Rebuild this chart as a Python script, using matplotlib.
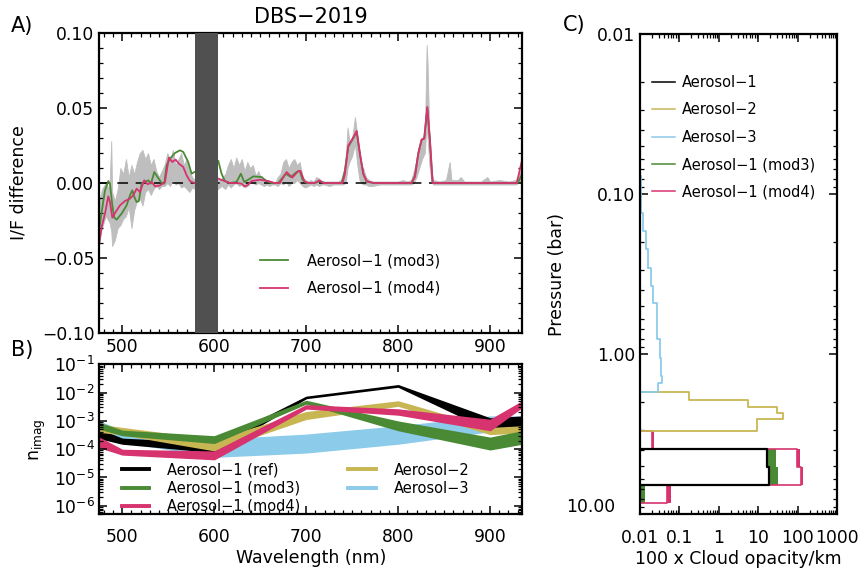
import numpy as np
import matplotlib.pyplot as plt
from matplotlib.lines import Line2D
from matplotlib.ticker import MultipleLocator, FuncFormatter, LogLocator, FixedLocator, NullFormatter

plt.rcParams['font.family'] = ['DejaVu Sans']

# --- Panel A: I/F difference -------------------------------------------------
gray_wl = [475, 478, 482, 486, 488, 489, 492, 495, 498, 501, 504, 507, 510, 513, 516, 519, 522, 525,
           528, 531, 534, 537, 540, 543, 546, 549, 552, 555, 558, 561, 564, 567, 570, 573, 576, 579,
           604, 608, 612, 615, 618, 621, 624, 627, 630, 633, 636,
           639, 642, 645, 648, 651, 654, 657, 660, 663, 666, 669, 672,
           675, 678, 681, 684, 687, 690, 693, 696, 699, 702, 705, 708,
           711, 714, 717, 720, 725, 730, 735, 740,
           743, 745, 747, 750, 753, 756, 758, 760, 762, 765, 768,
           772, 780, 790, 800, 805, 810, 814, 817, 820, 823, 826, 829, 831, 832, 834, 836, 838, 845,
           852, 856, 858, 865, 868, 872, 880, 890, 897, 900, 910, 920, 928, 935]
gray_hi = [-0.012, -0.004, 0.000, -0.004, 0.028, -0.006, -0.012, -0.004, 0.010, 0.006, 0.016, 0.004,
           0.012, 0.006, 0.014, 0.020, 0.022, 0.016, 0.020, 0.012, 0.016, 0.008, 0.004, 0.008, 0.012,
           0.020, 0.015, 0.022, 0.012, 0.016, 0.020, 0.012, 0.016, 0.008, 0.004, 0.002,
           0.002, 0.003, 0.006, 0.012, 0.016, 0.010, 0.017, 0.012, 0.016, 0.008, 0.014,
           0.010, 0.012, 0.005, 0.008, 0.003, 0.002, 0.002, 0.001, 0.000, 0.000, 0.004, 0.006,
           0.014, 0.016, 0.010, 0.014, 0.016, 0.012, 0.014, 0.004, 0.002, 0.001, 0.002, 0.001,
           0.004, 0.003, 0.001, 0.001, 0.001, 0.001, 0.001, 0.003,
           0.018, 0.037, 0.028, 0.030, 0.044, 0.030, 0.018, 0.012, 0.010, 0.004, 0.002,
           0.001, 0.001, 0.001, 0.001, 0.002, 0.001, 0.002, 0.008, 0.016, 0.025, 0.030, 0.032, 0.092, 0.080,
           0.030, 0.010, 0.002, 0.001,
           0.002, 0.014, 0.002, 0.002, 0.004, 0.001, 0.001, 0.001, 0.004, 0.001, 0.002, 0.001, 0.002, 0.010]
gray_lo = [-0.038, -0.030, -0.022, -0.026, -0.032, -0.042, -0.038, -0.030, -0.028, -0.024, -0.022,
           -0.016, -0.030, -0.018, -0.012, -0.010, -0.015, -0.006, -0.004, -0.008, -0.004, -0.002,
           -0.004, -0.002, -0.002, 0.000, -0.002, 0.002, -0.001, 0.000, -0.003, -0.002, -0.004,
           -0.006, -0.003, -0.004,
           -0.004, -0.002, -0.004, -0.001, -0.003, -0.001, 0.000, -0.002, -0.001, -0.003, -0.002,
           0.000, 0.000, -0.001, 0.000, -0.001, -0.002, -0.001, -0.002, -0.001, -0.001, -0.002, 0.000,
           -0.001, 0.001, -0.002, 0.000, 0.000, 0.002, 0.000, -0.002, -0.003, -0.002, -0.001, -0.002,
           -0.001, -0.002, -0.001, -0.001, -0.002, -0.001, -0.001, -0.001,
           0.000, 0.010, 0.014, 0.018, 0.026, 0.010, 0.002, 0.000, -0.001, -0.001, -0.002,
           -0.002, -0.001, -0.001, -0.001, -0.001, -0.001, -0.001, 0.000, 0.004, 0.010, 0.016, 0.020, 0.040,
           0.030, 0.012, 0.002, -0.001, -0.001,
           -0.001, -0.001, -0.001, -0.001, -0.001, -0.001, -0.001, -0.001, -0.001, -0.001, -0.001, -0.001,
           -0.001, 0.002]

green_wl = [475, 477.6, 481.2, 484.8, 486.6, 489.2, 491.3, 493.9, 499.3, 504.7, 508.4, 510.9, 513.1,
            515.6, 518.1, 521.0, 524.7, 528.3, 531.2, 534.8, 538.4, 542.8, 545.7, 548.2, 551.9, 557.3,
            562.7, 566.3, 571.7, 575.4, 578.3, 590,
            604.4, 608.0, 611.6, 617.0, 624.3, 629.0, 632.6, 637.0, 642.4, 651.4, 656.9, 662.3, 669.6,
            677.9, 683.3, 689.5, 693.1, 696.0, 700.4, 709.4, 714.9, 720.3, 738.5, 742.1, 745.7, 749.4,
            754.9, 758.5, 762.1, 765.7, 773.0, 814.6, 818.3, 821.9, 825.5, 828.4, 831.7, 834.6, 837.5,
            930.0, 935.0]
green = [-0.0304, -0.0193, -0.0049, 0.0013, -0.0004, -0.0149, -0.0231, -0.0244, -0.0204, -0.0149,
         -0.0082, -0.0049, -0.0093, -0.0127, -0.0120, -0.0004, 0.0007, 0.0018, -0.0004, 0.0073, 0.0040,
         0.0000, -0.0004, 0.0118, 0.0162, 0.0200, 0.0218, 0.0207, 0.0140, 0.0062, 0.0073, np.nan,
         0.0147, 0.0062, 0.0013, 0.0000, 0.0007, 0.0062, 0.0007, 0.0022, 0.0044, 0.0040, 0.0013, 0.0000,
         0.0000, 0.0062, 0.0040, 0.0073, 0.0080, 0.0022, 0.0000, 0.0000, 0.0013, 0.0000, 0.0000, 0.0084,
         0.0240, 0.0280, 0.0340, 0.0190, 0.0060, 0.0010, 0.0000, 0.0000, 0.0050, 0.0200, 0.0285, 0.0300,
         0.0500, 0.0280, 0.0000, 0.0000, 0.0060]

pink_wl = [475, 477.6, 481.2, 484.8, 486.6, 489.2, 492.8, 497.5, 502.9, 508.4, 512.0, 515.6, 519.2,
           523.9, 527.6, 531.9, 535.6, 541.0, 546.4, 550.7, 554.4, 558.0, 561.6, 566.3, 570.0, 573.6,
           578.3, 590,
           604.4, 617.0, 624.3, 629.7, 632.6, 636.2, 640.5, 649.6, 658.7, 666.0, 671.4, 678.7, 684.9,
           691.4, 693.9, 697.9, 702.2, 709.4, 714.2, 718.5, 739.6, 742.2, 745.8, 749.4, 754.9, 758.5,
           762.1, 765.7, 773.0, 814.6, 818.3, 821.9, 825.5, 828.4, 831.7, 834.6, 837.5, 929.0, 935.0]
pink = [-0.0404, -0.0293, -0.0204, -0.0089, -0.0127, -0.0231, -0.0193, -0.0149, -0.0120, -0.0104,
        -0.0082, -0.0038, -0.0060, 0.0018, -0.0009, 0.0007, -0.0022, -0.0016, 0.0007, 0.0169, 0.0140,
        0.0156, 0.0129, 0.0107, 0.0051, 0.0013, 0.0000, np.nan,
        0.0029, 0.0000, 0.0000, -0.0004, -0.0022, -0.0016, 0.0013, 0.0022, 0.0013, 0.0000, 0.0000,
        0.0073, 0.0036, 0.0080, 0.0080, 0.0013, 0.0000, 0.0000, 0.0018, 0.0000, 0.0000, 0.0062, 0.0251,
        0.0284, 0.0347, 0.0196, 0.0062, 0.0013, 0.0000, 0.0000, 0.0040, 0.0196, 0.0290, 0.0296, 0.0507,
        0.0284, 0.0000, 0.0000, 0.0160]

masked_band = (579, 604)

# --- Panel B: imaginary refractive index ------------------------------------
nimag_wl = [475, 500, 600, 700, 800, 900, 935]
ref_lo = [2.5e-4, 1.6e-4, 8.1e-5, 6.5e-3, 1.65e-2, 4.8e-4, 4.5e-4]
ref_hi = [4.8e-4, 2.3e-4, 1.6e-4, 7.0e-3, 1.8e-2, 1.2e-3, 1.4e-3]
mod3_lo = [5.5e-4, 3.2e-4, 1.7e-4, 4.2e-3, 4.8e-4, 1.0e-4, 1.6e-4]
mod3_hi = [8.3e-4, 4.4e-4, 2.8e-4, 5.0e-3, 9.3e-4, 2.5e-4, 4.2e-4]
mod4_lo = [1.2e-4, 6.6e-5, 4.5e-5, 2.8e-3, 1.7e-3, 4.8e-4, 3.2e-3]
mod4_hi = [2.5e-4, 9.3e-5, 8.1e-5, 3.5e-3, 2.5e-3, 1.07e-3, 4.8e-3]
aer2_lo = [4.2e-4, 3.4e-4, 9.3e-5, 1.2e-3, 3.5e-3, 3.5e-4, 4.0e-4]
aer2_hi = [7.2e-4, 5.5e-4, 2.1e-4, 2.0e-3, 4.8e-3, 5.5e-4, 6.3e-4]
aer3_lo = [3.6e-4, 1.9e-4, 5.5e-5, 7.8e-5, 1.6e-4, 4.4e-4, 4.3e-4]
aer3_hi = [9.3e-4, 4.4e-4, 2.1e-4, 3.2e-4, 6.3e-4, 1.4e-3, 1.4e-3]

# --- Panel C: cloud opacity profiles -----------------------------------------
aer3_p = [0.077, 0.131, 0.170, 0.220, 0.290, 0.376, 0.479, 0.62, 0.80, 1.06, 1.37, 1.51, 1.72]
aer3_tau = [0.0104, 0.0121, 0.0142, 0.0162, 0.0190, 0.0220, 0.0263, 0.0275, 0.0320, 0.0350, 0.0355, 0.0290]
aer2_p = [1.72, 1.94, 2.13, 2.33, 2.54, 3.03]
aer2_tau = [0.177, 5.52, 28.9, 41.0, 9.33]
aer1_p = [3.90, 5.06, 6.59]
aer1_tau = [16.3, 18.9]
mod3_p = [3.90, 5.06, 6.59, 8.50]
mod3_tau_lo = [17.0, 19.5, 0.01]
mod3_tau_hi = [27.2, 31.7, 0.0134]
mod4_p = [3.03, 3.90, 5.06, 6.59, 8.50]
mod4_tau_lo = [0.0205, 94.0, 118.0, 0.049]
mod4_tau_hi = [0.0230, 112.0, 135.0, 0.060]

c_green = '#4b8a35'
c_pink = '#d6336f'
c_khaki = '#c8b653'
c_blue = '#8ccbea'
c_gray = '#bebebe'
c_bar = '#505050'
TAU_MIN = 0.01


def step_profile(edges, vals, floor=TAU_MIN):
    # escalera vertical: cada capa entre edges[i] y edges[i+1] con valor vals[i]
    x = np.concatenate([[floor], np.repeat(vals, 2), [floor]])
    y = np.repeat(edges, 2)
    return x, y


def style_axes(ax):
    ax.tick_params(which='both', direction='in', top=True, right=True, labelsize=12.3)
    ax.tick_params(which='major', length=6, width=1.1)
    ax.tick_params(which='minor', length=3, width=0.9)
    for s in ax.spines.values():
        s.set_linewidth(1.6)


minus = lambda fmt: FuncFormatter(lambda v, p: (fmt % v).replace('-', '\u2212'))

fig = plt.figure(figsize=(8.64, 5.71), dpi=100)
axA = fig.add_axes([0.1149, 0.4168, 0.4896, 0.5254])
axB = fig.add_axes([0.1149, 0.0993, 0.4896, 0.2627])
axC = fig.add_axes([0.7407, 0.0998, 0.2284, 0.8406])

# --- A -------------------------------------------------------------------------
axA.fill_between(gray_wl, gray_lo, gray_hi, color=c_gray, lw=0.6, edgecolor=c_gray)
axA.axhline(0, color='k', lw=1.1, dashes=(7, 5))
axA.plot(green_wl, green, color=c_green, lw=1.3, label='Aerosol\u22121 (mod3)')
axA.plot(pink_wl, pink, color=c_pink, lw=1.3, label='Aerosol\u22121 (mod4)')
axA.axvspan(*masked_band, color=c_bar, lw=0, zorder=5)
axA.set_xlim(475, 935)
axA.set_ylim(-0.10, 0.10)
axA.xaxis.set_major_locator(MultipleLocator(100))
axA.xaxis.set_minor_locator(MultipleLocator(10))
axA.yaxis.set_major_locator(MultipleLocator(0.05))
axA.yaxis.set_minor_locator(MultipleLocator(0.01))
axA.yaxis.set_major_formatter(minus('%.2f'))
axA.set_ylabel('I/F difference', fontsize=12.5, labelpad=10)
axA.set_title('DBS\u22122019', fontsize=15, pad=7)
style_axes(axA)
axA.legend(loc='upper left', bbox_to_anchor=(0.38, 0.265), frameon=False, fontsize=10.5,
           handlelength=1.9, handletextpad=1.3, labelspacing=0.85, borderpad=0, borderaxespad=0)

# --- B -------------------------------------------------------------------------
bands = [(aer3_lo, aer3_hi, c_blue, 'Aerosol\u22123'),
         (ref_lo, ref_hi, 'k', 'Aerosol\u22121 (ref)'),
         (aer2_lo, aer2_hi, c_khaki, 'Aerosol\u22122'),
         (mod3_lo, mod3_hi, c_green, 'Aerosol\u22121 (mod3)'),
         (mod4_lo, mod4_hi, c_pink, 'Aerosol\u22121 (mod4)')]
handles = {}
for lo, hi, col, lab in bands:
    axB.fill_between(nimag_wl, lo, hi, color=col, edgecolor=col, lw=1.2)
    handles[lab] = Line2D([], [], color=col, lw=2.8)
order = ['Aerosol\u22121 (ref)', 'Aerosol\u22121 (mod3)', 'Aerosol\u22121 (mod4)', 'Aerosol\u22122', 'Aerosol\u22123']
axB.set_yscale('log')
axB.set_xlim(475, 935)
axB.set_ylim(5e-7, 1e-1)
axB.xaxis.set_major_locator(MultipleLocator(100))
axB.xaxis.set_minor_locator(MultipleLocator(10))
axB.yaxis.set_major_locator(LogLocator(base=10, numticks=12))
axB.yaxis.set_minor_locator(LogLocator(base=10, subs=np.arange(2, 10), numticks=12))
axB.yaxis.set_minor_formatter(NullFormatter())
axB.set_xlabel('Wavelength (nm)', fontsize=12.5, labelpad=2)
axB.set_ylabel('n$_{\\rm imag}$', fontsize=12.5)
style_axes(axB)
axB.tick_params(axis='x', which='major', pad=10)
axB.legend([handles[k] for k in order], order, ncol=2, loc='upper left', bbox_to_anchor=(0.053, 0.345),
           frameon=False, fontsize=10.5, handlelength=1.9, handletextpad=1.2, labelspacing=0.22,
           columnspacing=3.3, borderpad=0, borderaxespad=0)

# --- C -------------------------------------------------------------------------
for lo, hi, col, p in [(mod3_tau_lo, mod3_tau_hi, c_green, mod3_p), (mod4_tau_lo, mod4_tau_hi, c_pink, mod4_p)]:
    xl, y = step_profile(p, lo)
    xh, _ = step_profile(p, hi)
    axC.fill_betweenx(y, xl, xh, color=col, lw=0)
x, y = step_profile(mod4_p, mod4_tau_lo)
axC.plot(x, y, color=c_pink, lw=1.2)
x, y = step_profile(aer2_p, aer2_tau)
axC.plot(x, y, color=c_khaki, lw=1.3)
x, y = step_profile(aer3_p, aer3_tau)
axC.plot(x, y, color=c_blue, lw=1.3)
x, y = step_profile(aer1_p, aer1_tau)
axC.plot(x, y, color='k', lw=1.6)
axC.set_xscale('log')
axC.set_yscale('log')
axC.set_xlim(0.01, 1000)
axC.set_ylim(10, 0.01)
axC.xaxis.set_major_locator(FixedLocator([0.01, 0.1, 1, 10, 100, 1000]))
axC.xaxis.set_major_formatter(FuncFormatter(lambda v, p: '%g' % v))
axC.xaxis.set_minor_locator(LogLocator(base=10, subs=np.arange(2, 10), numticks=12))
axC.xaxis.set_minor_formatter(NullFormatter())
axC.yaxis.set_major_locator(FixedLocator([0.01, 0.1, 1, 10]))
# la etiqueta 10.00 va aparte (desplazada como en el original)
axC.yaxis.set_major_formatter(FuncFormatter(lambda v, p: '' if v >= 10 else '%.2f' % v))
axC.yaxis.set_minor_locator(LogLocator(base=10, subs=np.arange(2, 10), numticks=12))
axC.yaxis.set_minor_formatter(NullFormatter())
axC.set_xlabel('100 x Cloud opacity/km', fontsize=12.5, labelpad=2)
axC.set_ylabel('Pressure (bar)', fontsize=12.5, labelpad=22)
style_axes(axC)
axC.tick_params(axis='x', which='major', pad=11)
fig.text(615 / 864, 1 - 507 / 571, '10.00', ha='right', va='center', fontsize=12.3)
hC = [Line2D([], [], color=c, lw=1.1) for c in ['k', c_khaki, c_blue, c_green, c_pink]]
axC.legend(hC, ['Aerosol\u22121', 'Aerosol\u22122', 'Aerosol\u22123', 'Aerosol\u22121 (mod3)', 'Aerosol\u22121 (mod4)'],
           loc='upper left', bbox_to_anchor=(0.059, 0.915), frameon=False, fontsize=10.5,
           handlelength=1.6, handletextpad=0.45, labelspacing=0.85, borderpad=0, borderaxespad=0)

# etiquetas de panel
fig.text(0.013, 1 - 26 / 571, 'A)', fontsize=15, va='center')
fig.text(0.013, 1 - 350 / 571, 'B)', fontsize=15, va='center')
fig.text(0.651, 1 - 25 / 571, 'C)', fontsize=15, va='center')

fig.savefig('out.png', dpi=100)
